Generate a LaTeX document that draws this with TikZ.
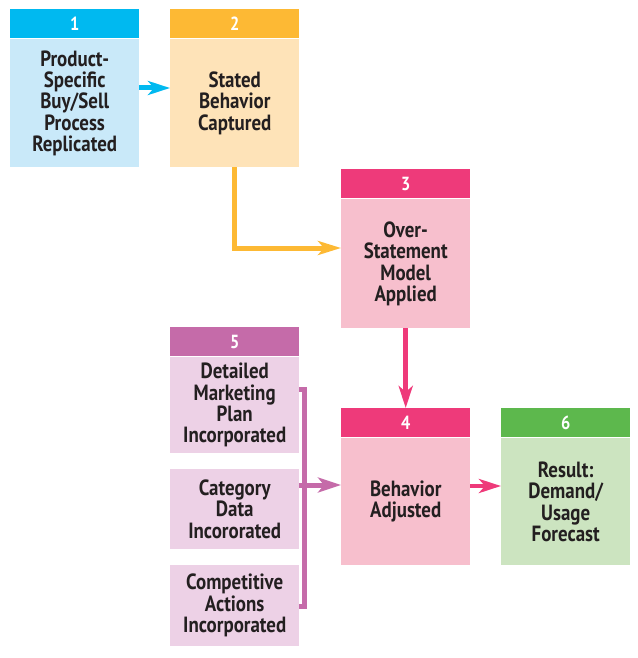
\documentclass[tikz,border=0pt]{standalone}
\usepackage{fontspec}
\setmainfont[FakeStretch=0.86]{PT Sans}
\usetikzlibrary{arrows.meta}
\definecolor{cyanH}{HTML}{00B9F0}
\definecolor{cyanB}{HTML}{C9E9F9}
\definecolor{orH}{HTML}{FDB934}
\definecolor{orB}{HTML}{FEE3B8}
\definecolor{pkH}{HTML}{EE3A7A}
\definecolor{pkB}{HTML}{F7BFCD}
\definecolor{puH}{HTML}{C56BA9}
\definecolor{puB}{HTML}{EDD1E6}
\definecolor{grH}{HTML}{5DB84D}
\definecolor{grB}{HTML}{CCE4C0}
\definecolor{txt}{HTML}{231F20}
\begin{document}
\begin{tikzpicture}[x=1pt,y=-1pt,
  hdr/.style={anchor=north west,minimum width=129pt,minimum height=29pt,inner sep=0pt,
    text=white,font=\bfseries\fontsize{19}{19}\selectfont},
  body/.style={anchor=north west,minimum width=129pt,inner sep=0pt,align=center,
    text=txt,font=\bfseries\fontsize{22}{21.4}\selectfont},
  conn/.style={line width=5pt,-{Stealth[length=22pt,width=14pt,inset=6pt]}}]
\useasboundingbox (0,0) rectangle (637,658);
% box 1
\node[hdr,fill=cyanH] (h1) at (10,9) {1};
\node[body,fill=cyanB,minimum height=128pt] (b1) at (10,39) {Product-\\Specific\\Buy/Sell\\Process\\Replicated};
% box 2
\node[hdr,fill=orH] (h2) at (170,9) {2};
\node[body,fill=orB,minimum height=128pt] (b2) at (170,39) {Stated\\Behavior\\Captured};
% box 3
\node[hdr,fill=pkH] (h3) at (341,169) {3};
\node[body,fill=pkB,minimum height=129pt] (b3) at (341,199) {Over-\\Statement\\Model\\Applied};
% box 4
\node[hdr,fill=pkH] (h4) at (341,408) {4};
\node[body,fill=pkB,minimum height=127pt] (b4) at (341,438) {Behavior\\Adjusted};
% box 6
\node[hdr,fill=grH] (h6) at (501,408) {6};
\node[body,fill=grB,minimum height=127pt] (b6) at (501,438) {Result:\\Demand/\\Usage\\Forecast};
% box 5
\node[hdr,fill=puH] (h5) at (170,327) {5};
\node[body,fill=puB,minimum height=96pt] (b5a) at (170,357) {Detailed\\Marketing\\Plan\\Incorporated};
\node[body,fill=puB,minimum height=80pt] (b5b) at (170,469) {Category\\Data\\Incororated};
\node[body,fill=puB,minimum height=81pt] (b5c) at (170,565) {Competitive\\Actions\\Incorporated};
% connectors
\draw[conn,cyanH] (b1.east |- 0,88) -- (b2.west |- 0,88);
\coordinate (c2) at (234,248);
\draw[conn,orH,-{Stealth[length=23pt,width=14pt,inset=6pt]}] (b2.south -| c2) -- (c2) -- (b3.west |- c2);
\draw[conn,pkH,line width=4.5pt] (b3.south) -- (h4.north);
\coordinate (bt) at (304,389);
\coordinate (bb) at (304,606);
\coordinate (bm) at (304,485);
\draw[puH,line width=5pt] (b5a.east |- bt) -- (bt) -- (bb) -- (b5c.east |- bb);
\draw[conn,puH,-{Stealth[length=23pt,width=15pt,inset=6pt]}] (b5b.east |- bm) -- (b4.west |- bm);
\draw[conn,pkH,line width=4.5pt] (b4.east |- 0,486) -- (b6.west |- 0,486);
\end{tikzpicture}
\end{document}
